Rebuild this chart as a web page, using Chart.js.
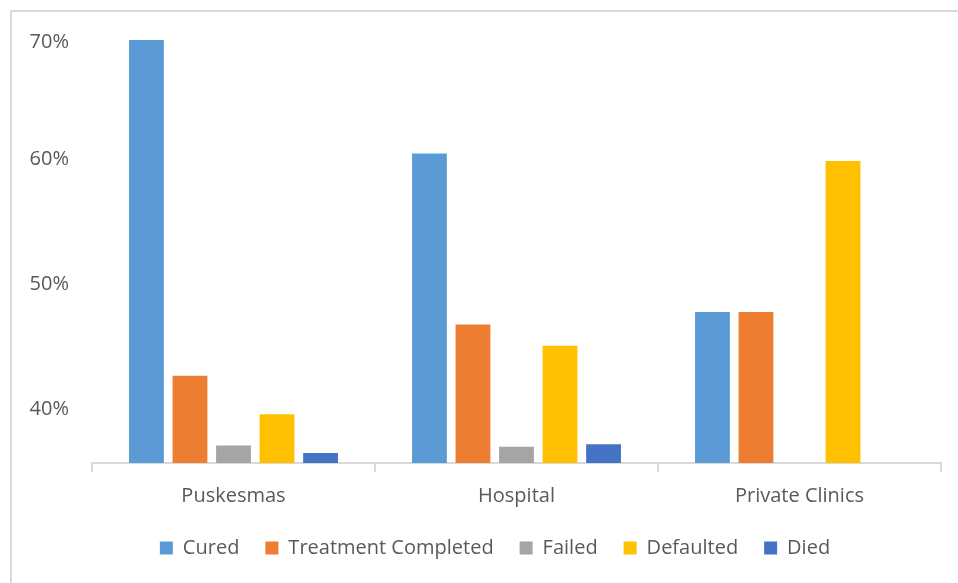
<!DOCTYPE html>
<html>
<head>
<meta charset="utf-8">
<script src="https://cdn.jsdelivr.net/npm/chart.js@4/dist/chart.umd.min.js"></script>
<style>
  html, body { margin: 0; padding: 0; background: #ffffff; overflow: hidden; }
  #wrap { position: relative; width: 958px; height: 583px; }
  #frame { position: absolute; left: 10px; top: 10px; width: 980px; height: 600px;
           border-left: 2px solid #d9d9d9; border-top: 2px solid #d9d9d9; box-sizing: border-box; }
  #c { position: absolute; left: 0; top: 0; }
</style>
</head>
<body>
<div id="wrap">
  <div id="frame"></div>
  <canvas id="c" width="958" height="583"></canvas>
</div>
<script>
// Treatment outcomes by facility type (percent)
const categories = ['Puskesmas', 'Hospital', 'Private Clinics'];
const seriesNames = ['Cured', 'Treatment Completed', 'Failed', 'Defaulted', 'Died'];
const cured              = [69.6, 60.5, 47.8];
const treatmentCompleted = [42.7, 46.8, 47.8];
const failed             = [37.1, 37.0, null];
const defaulted          = [39.6, 45.1, 59.9];
const died               = [36.5, 37.2, null];
const yTickValues = [40, 50, 60, 70];
const yMin = 35.7, yMax = 70;

const seriesColors = ['#5B9BD5', '#ED7D31', '#A5A5A5', '#FFC000', '#4472C4'];
const seriesValues = [cured, treatmentCompleted, failed, defaulted, died];

const textColor = '#595959';
const fontFamily = '"Open Sans", "Noto Sans", sans-serif';
const axisColor = '#d9d9d9';

// keeps the top tick label inside the frame and centres the legend row
const layoutTweaks = {
  id: 'layoutTweaks',
  afterLayout(chart) {
    const lg = chart.legend;
    const shift = 495 - (lg.left + lg.right) / 2;
    lg.left += shift;
    lg.right += shift;
  },
  beforeDraw(chart) {
    const items = chart.scales.y.getLabelItems();
    items.forEach(it => {
      if (it.label === '70%' && !it._moved) {
        it.options.translation[1] += 7;
        it._moved = true;
      }
    });
  }
};

new Chart(document.getElementById('c'), {
  type: 'bar',
  data: {
    labels: categories,
    datasets: seriesNames.map((name, i) => ({
      label: name,
      data: seriesValues[i],
      backgroundColor: seriesColors[i],
      borderWidth: 0,
      barPercentage: 0.8,
      categoryPercentage: 0.769
    }))
  },
  options: {
    responsive: false,
    animation: false,
    layout: { padding: { left: 0, right: 17, top: 34, bottom: 15 } },
    plugins: {
      tooltip: { enabled: false },
      legend: {
        position: 'bottom',
        align: 'center',
        labels: {
          boxWidth: 13,
          boxHeight: 13,
          padding: 26,
          color: textColor,
          font: { family: fontFamily, size: 20 }
        }
      }
    },
    scales: {
      x: {
        grid: {
          display: true,
          drawOnChartArea: false,
          drawTicks: true,
          tickLength: 9,
          color: axisColor,
          lineWidth: 2,
          offset: true
        },
        border: { display: true, color: axisColor, width: 2 },
        ticks: {
          color: textColor,
          padding: 12,
          maxRotation: 0,
          font: { family: fontFamily, size: 20 }
        },
        afterFit(s) { s.height = 49; }
      },
      y: {
        min: yMin,
        max: yMax,
        grid: { display: false, drawTicks: false },
        border: { display: false },
        ticks: {
          color: textColor,
          padding: 23,
          font: { family: fontFamily, size: 20 },
          callback: v => v + '%'
        },
        afterBuildTicks(s) { s.ticks = yTickValues.map(v => ({ value: v })); },
        afterFit(s) { s.width = 92; }
      }
    }
  },
  plugins: [layoutTweaks]
});
</script>
</body>
</html>
